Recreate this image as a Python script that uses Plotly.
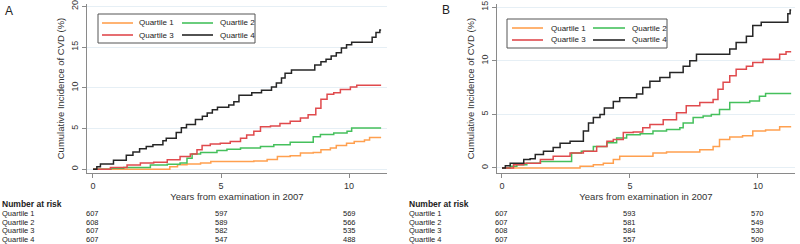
import plotly.graph_objects as go

# ---------------- data ----------------
quartiles = ["Quartile 1", "Quartile 2", "Quartile 3", "Quartile 4"]
colors = ["#ffa04f", "#45c05c", "#e04a4d", "#262626"]

# Panel A
a_q1_t = [0, 2.9, 3.0, 3.3, 3.67, 4.2, 4.6, 6.28, 6.8, 7.2, 7.7, 8.1, 8.6, 8.9, 9.27, 9.5, 9.9, 10.2, 10.6, 10.8, 11.25]
a_q1_y = [0, 0, 0.3, 0.55, 0.65, 0.75, 0.95, 1.0, 1.2, 1.55, 1.65, 2.0, 2.05, 2.4, 2.6, 2.9, 3.2, 3.4, 3.6, 3.9, 3.9]
a_q2_t = [0, 0.7, 1.2, 2.24, 2.9, 3.4, 3.67, 3.87, 4.2, 4.84, 5.23, 5.76, 6.54, 7.06, 7.7, 8.6, 8.88, 9.4, 9.92, 10.1, 11.25]
a_q2_y = [0, 0.1, 0.2, 0.5, 0.6, 0.75, 1.35, 1.85, 2.05, 2.3, 2.45, 2.6, 2.8, 3.0, 3.3, 4.0, 4.25, 4.45, 4.65, 5.05, 5.05]
a_q3_t = [0, 0.68, 1.33, 1.85, 2.37, 2.9, 3.4, 3.8, 4.06, 4.26, 4.58, 4.97, 5.36, 5.76, 6.0, 6.28, 6.54, 6.93, 7.3, 7.7, 8.1, 8.4, 8.7, 8.9, 9.14, 9.4, 9.66, 10.05, 10.3, 11.25]
a_q3_y = [0, 0.2, 0.5, 0.75, 0.85, 1.15, 1.55, 1.85, 2.4, 2.9, 3.1, 3.2, 3.4, 3.8, 4.2, 4.65, 5.2, 5.3, 5.6, 5.9, 6.3, 6.7, 7.5, 8.6, 9.2, 9.4, 9.8, 10.1, 10.3, 10.3]
a_q4_t = [0, 0.15, 0.29, 0.8, 1.3, 1.56, 1.82, 2.08, 2.34, 2.73, 2.86, 3.25, 3.45, 3.65, 4.0, 4.27, 4.46, 4.66, 4.86, 5.3, 5.5, 5.7, 6.2, 6.58, 6.97, 7.16, 7.36, 7.5, 7.75, 8.66, 8.9, 9.1, 9.3, 9.5, 9.7, 9.9, 10.1, 10.9, 11.05, 11.2, 11.25]
a_q4_y = [0, 0.3, 0.65, 1.1, 1.7, 2.1, 2.5, 2.8, 3.0, 3.5, 3.8, 4.5, 5.1, 5.5, 6.1, 6.5, 6.9, 7.3, 7.6, 7.9, 8.3, 9.1, 9.4, 9.7, 10.1, 10.6, 11.2, 11.8, 12.2, 12.8, 13.2, 13.5, 13.9, 14.3, 14.9, 15.3, 15.6, 16.2, 16.8, 17.1, 17.1]

# Panel B
b_q1_t = [0, 2.8, 3.05, 3.57, 3.96, 4.35, 4.6, 5.9, 6.43, 7.73, 8.25, 8.5, 8.9, 9.4, 9.8, 10.3, 10.85, 11.3]
b_q1_y = [0, 0, 0.15, 0.3, 0.45, 0.8, 1.1, 1.4, 1.5, 1.7, 2.0, 2.65, 2.9, 3.0, 3.45, 3.55, 3.85, 3.85]
b_q2_t = [0, 0.32, 0.58, 0.97, 1.5, 2.72, 3.1, 3.57, 4.1, 4.48, 4.87, 5.4, 5.9, 6.43, 6.95, 7.08, 7.47, 7.86, 8.18, 8.5, 8.9, 9.68, 10.06, 10.3, 11.3]
b_q2_y = [0, 0.15, 0.3, 0.45, 0.6, 1.4, 1.55, 2.0, 2.35, 2.8, 3.1, 3.2, 3.45, 3.6, 3.75, 4.2, 4.7, 4.85, 5.0, 5.45, 6.1, 6.25, 6.7, 6.95, 6.95]
b_q3_t = [0, 0.45, 0.85, 1.5, 2.0, 2.66, 3.18, 3.7, 4.1, 4.35, 4.74, 5.13, 5.5, 5.78, 6.3, 6.82, 7.2, 7.73, 8.25, 8.44, 8.64, 8.9, 9.15, 9.55, 9.8, 10.2, 10.85, 11.1, 11.3]
b_q3_y = [0, 0.3, 0.45, 0.8, 1.1, 1.4, 1.55, 2.0, 2.5, 2.65, 3.3, 3.35, 3.75, 4.05, 4.5, 5.15, 5.8, 6.1, 6.4, 7.35, 8.0, 8.6, 9.2, 9.5, 9.85, 10.15, 10.6, 10.85, 10.85]
b_q4_t = [0, 0.13, 0.32, 0.85, 1.1, 1.3, 1.62, 2.0, 2.27, 2.66, 3.18, 3.38, 3.57, 3.83, 4.0, 4.35, 4.6, 5.26, 5.5, 5.78, 6.17, 6.56, 7.08, 7.34, 7.6, 8.9, 9.15, 9.55, 9.8, 10.13, 11.17, 11.26, 11.3]
b_q4_y = [0, 0.2, 0.45, 0.8, 0.85, 1.25, 1.55, 1.9, 2.3, 2.5, 3.45, 4.2, 4.7, 5.0, 5.6, 6.2, 6.55, 6.9, 7.5, 8.1, 8.45, 8.9, 9.5, 10.0, 10.6, 11.1, 11.7, 12.3, 13.3, 13.6, 14.4, 14.75, 14.75]

risk_times = [0, 5, 10]
a_risk = [[607, 597, 569], [608, 589, 566], [607, 582, 535], [607, 547, 488]]
b_risk = [[607, 593, 570], [607, 581, 549], [608, 584, 530], [607, 557, 509]]

x_ticks = [0, 5, 10]
a_y_ticks = [0, 5, 10, 15, 20]
b_y_ticks = [0, 5, 10, 15]
x_title = "Years from examination in 2007"
y_title = "Cumulative Incidence of CVD (%)"

# ---------------- figure ----------------
FONT = "Liberation Sans, Arial, sans-serif"
W, H = 800, 244
fig = go.Figure()

panels = [
    dict(t=[a_q1_t, a_q2_t, a_q3_t, a_q4_t], y=[a_q1_y, a_q2_y, a_q3_y, a_q4_y], xa="x", ya="y"),
    dict(t=[b_q1_t, b_q2_t, b_q3_t, b_q4_t], y=[b_q1_y, b_q2_y, b_q3_y, b_q4_y], xa="x2", ya="y2"),
]
for p in panels:
    for i, q in enumerate(quartiles):
        fig.add_trace(go.Scatter(
            x=p["t"][i], y=p["y"][i], mode="lines", name=q,
            line=dict(color=colors[i], width=1.5, shape="hv"),
            xaxis=p["xa"], yaxis=p["ya"], showlegend=False,
        ))


def px_x(p):
    return p / W


def px_y(p):
    return 1 - p / H


ydom = [px_y(173), px_y(4)]
TXT = "#333"
axis_common = dict(showline=True, linecolor="#8a8a8a", linewidth=1, ticks="outside",
                   ticklen=4, tickcolor="#8a8a8a", zeroline=False, automargin=False,
                   tickfont=dict(family=FONT, size=9, color=TXT))
title_font = dict(family=FONT, size=9.5, color=TXT)
fig.update_layout(
    width=W, height=H, margin=dict(l=0, r=0, t=0, b=0, autoexpand=False),
    paper_bgcolor="white", plot_bgcolor="white",
    font=dict(family=FONT, color=TXT),
    showlegend=False,
    xaxis=dict(domain=[px_x(87), px_x(387)], range=[-0.234, 11.48], tickvals=x_ticks,
               showgrid=False, anchor="y",
               title=dict(text=x_title, font=title_font, standoff=2), **axis_common),
    yaxis=dict(domain=ydom, range=[-0.47, 20.3], tickvals=a_y_ticks, tickangle=-90,
               showgrid=True, gridcolor="#e6eff5", gridwidth=1, anchor="x",
               title=dict(text=y_title, font=title_font, standoff=4), **axis_common),
    xaxis2=dict(domain=[px_x(497), px_x(795)], range=[-0.195, 11.45], tickvals=x_ticks,
                showgrid=False, anchor="y2",
                title=dict(text=x_title, font=title_font, standoff=2), **axis_common),
    yaxis2=dict(domain=ydom, range=[-0.47, 15.3], tickvals=b_y_ticks, tickangle=-90,
                showgrid=True, gridcolor="#e6eff5", gridwidth=1, anchor="x2",
                title=dict(text=y_title, font=title_font, standoff=4), **axis_common),
)

ann = []
shapes = []
# panel labels
ann.append(dict(text="A", x=px_x(3), y=px_y(2), xref="paper", yref="paper",
                xanchor="left", yanchor="top", showarrow=False,
                font=dict(family=FONT, size=12, color="#222")))
ann.append(dict(text="B", x=px_x(440), y=px_y(1), xref="paper", yref="paper",
                xanchor="left", yanchor="top", showarrow=False,
                font=dict(family=FONT, size=12, color="#222")))

# legend boxes (drawn by hand to match the compact Stata-style key)
legend_specs = [
    dict(box=(98, 14, 255, 43), rows=(23, 35), cols=((102, 133, 137), (182, 213, 218))),
    dict(box=(507, 19, 667, 48), rows=(28, 40), cols=((512, 543, 549), (593, 625, 630))),
]
for spec in legend_specs:
    x0, y0, x1, y1 = spec["box"]
    shapes.append(dict(type="rect", xref="paper", yref="paper",
                       x0=px_x(x0), x1=px_x(x1), y0=px_y(y1), y1=px_y(y0),
                       line=dict(color="#555", width=1), fillcolor="white", layer="above"))
    for i, q in enumerate(quartiles):
        r, c = i // 2, i % 2
        lx0, lx1, tx = spec["cols"][c]
        yy = spec["rows"][r]
        shapes.append(dict(type="line", xref="paper", yref="paper",
                           x0=px_x(lx0), x1=px_x(lx1), y0=px_y(yy), y1=px_y(yy),
                           line=dict(color=colors[i], width=1.6), layer="above"))
        ann.append(dict(text=q, x=px_x(tx), y=px_y(yy), xref="paper", yref="paper",
                        xanchor="left", yanchor="middle", showarrow=False,
                        font=dict(family=FONT, size=8, color="#222")))

row_y = [213, 222, 230.5, 239]
for risk, xref, x0 in [(a_risk, "x", 0), (b_risk, "x2", 407)]:
    ann.append(dict(text="<b>Number at risk</b>", x=px_x(x0), y=px_y(204), xref="paper",
                    yref="paper", xanchor="left", yanchor="middle", showarrow=False,
                    font=dict(family=FONT, size=8.5, color="#222")))
    for r, q in enumerate(quartiles):
        ann.append(dict(text=q, x=px_x(x0), y=px_y(row_y[r]), xref="paper", yref="paper",
                        xanchor="left", yanchor="middle", showarrow=False,
                        font=dict(family=FONT, size=7.5, color="#222")))
        for c, t in enumerate(risk_times):
            ann.append(dict(text=str(risk[r][c]), x=t, y=px_y(row_y[r]), xref=xref,
                            yref="paper", xanchor="center", yanchor="middle",
                            showarrow=False,
                            font=dict(family=FONT, size=7.5, color="#222")))
fig.update_layout(annotations=ann, shapes=shapes)

fig.write_html("out.html", config={"displayModeBar": False},
               post_script="document.body.style.margin='0px';")
